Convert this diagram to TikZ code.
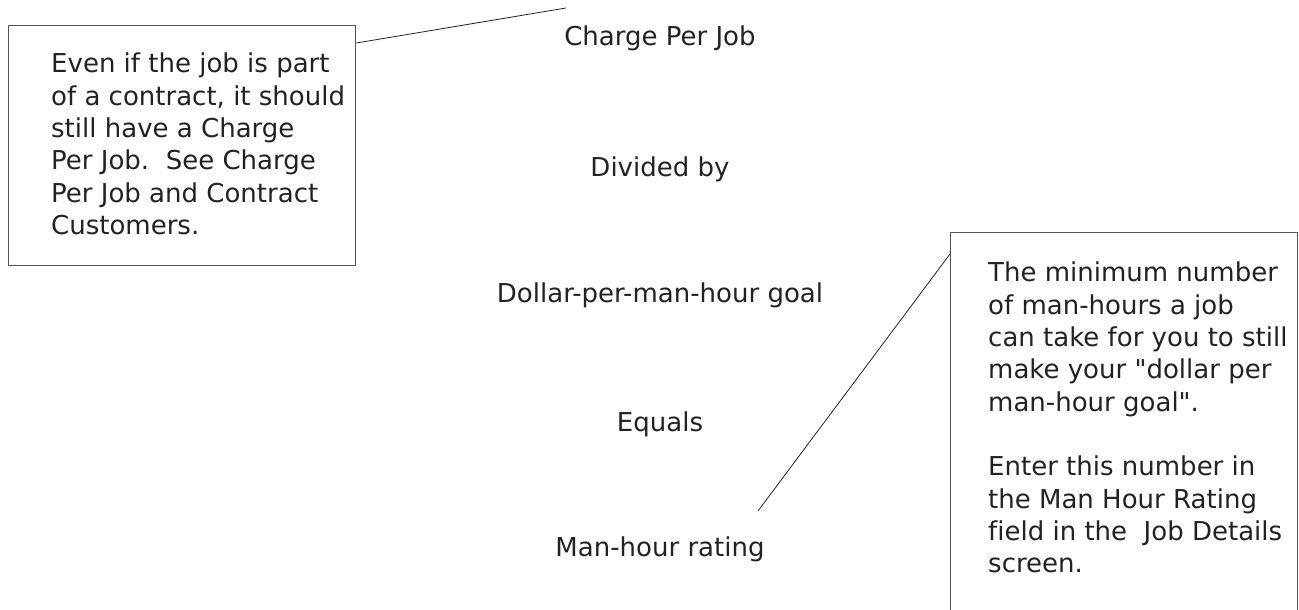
\documentclass[tikz,border=0pt]{standalone}
\usepackage{fontspec}
\newfontfamily\notefont{DejaVu Sans}[Ligatures=NoCommon]
\definecolor{ink}{HTML}{222222}
\definecolor{boxline}{HTML}{555555}
\begin{document}
\begin{tikzpicture}[x=1pt,y=-1pt,
  lbl/.style={font=\notefont\fontsize{26}{32.3}\selectfont, text=ink, inner sep=0pt},
  notetext/.style={lbl, align=left, anchor=north west},
  formula/.style={lbl, anchor=base},
  notebox/.style={draw=boxline, line width=1.3pt, inner sep=0pt, anchor=north west},
  conn/.style={draw=ink, line width=0.8pt}]
\useasboundingbox (0,0) rectangle (1299,610);
\clip (0,0) rectangle (1299,610);
% left note
\node[notebox, minimum width=347pt, minimum height=240pt] (n1) at (8,25) {};
\node[notetext] (t1) at (51,53) {Even if the job is part\\of a contract, it should\\still have a Charge\\Per Job.\ \ See Charge\\Per Job and Contract\\Customers.};
% right note
\node[notebox, minimum width=347pt, minimum height=420pt] (n2) at (950,232) {};
\node[notetext] (t2) at (988,262) {The minimum number\\of man-hours a job\\can take for you to still\\make your "dollar per\\man-hour goal".\\[32.3pt]Enter this number in\\the Man Hour Rating\\field in the\ \ Job Details\\screen.};
% formula
\node[formula] (a) at (660,46) {Charge Per Job};
\node[formula] (b) at (660,176) {Divided by};
\node[formula] (c) at (660,302) {Dollar-per-man-hour goal};
\node[formula] (d) at (660,431) {Equals};
\node[formula] (e) at (660,556) {Man-hour rating};
% connectors
\coordinate (c1) at (566,8);
\coordinate (c2) at (758,511);
\draw[conn] ([yshift=-18pt]n1.north east) -- (c1);
\draw[conn] ([yshift=-22pt]n2.north west) -- (c2);
\end{tikzpicture}
\end{document}
